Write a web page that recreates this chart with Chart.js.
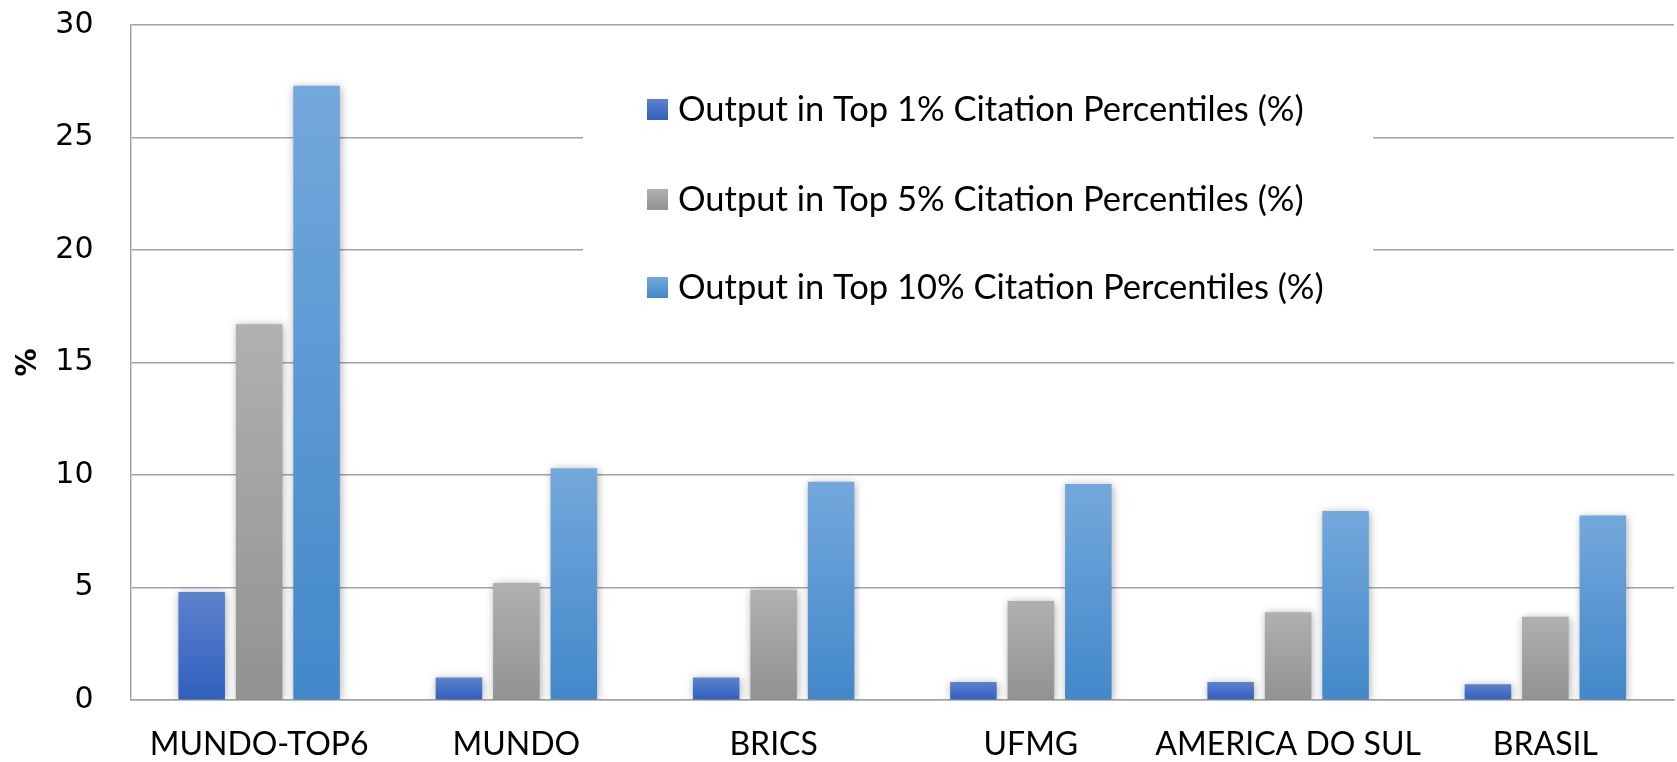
<!DOCTYPE html>
<html lang="pt">
<head>
  <meta charset="utf-8">
  <title>Citation Percentiles</title>
  <script src="https://cdn.jsdelivr.net/npm/chart.js@4/dist/chart.umd.min.js"></script>
  <style>
    html, body { margin: 0; padding: 0; background: #fff; }
    #wrap { width: 1677px; height: 762px; }
  </style>
</head>
<body>
  <div id="wrap"><canvas id="chart"></canvas></div>
  <script>
    var categories = ['MUNDO-TOP6', 'MUNDO', 'BRICS', 'UFMG', 'AMERICA DO SUL', 'BRASIL'];
    var top1 = [4.8, 1.0, 1.0, 0.8, 0.8, 0.7];
    var top5 = [16.7, 5.2, 4.9, 4.4, 3.9, 3.7];
    var top10 = [27.3, 10.3, 9.7, 9.6, 8.4, 8.2];
    var seriesNames = [
      'Output in Top 1% Citation Percentiles (%)',
      'Output in Top 5% Citation Percentiles (%)',
      'Output in Top 10% Citation Percentiles (%)'
    ];
    var yTicks = [0, 5, 10, 15, 20, 25, 30];

    // top / bottom colours of each bar's gradient
    var shades = [
      ['#5d82ce', '#2f5fbd'],
      ['#b0b0b0', '#929292'],
      ['#73a8dc', '#4288c9']
    ];

    function barFill(i) {
      return function (c) {
        var chart = c.chart;
        if (!chart.chartArea || c.raw == null) return shades[i][1];
        var y = chart.scales.y;
        var g = chart.ctx.createLinearGradient(0, y.getPixelForValue(c.raw), 0, y.getPixelForValue(0));
        g.addColorStop(0, shades[i][0]);
        g.addColorStop(1, shades[i][1]);
        return g;
      };
    }

    // legend sitting inside the plot, on a white box that hides the grid
    var boxLegend = {
      id: 'boxLegend',
      beforeDatasetsDraw: function (chart) {
        var ctx = chart.ctx;
        ctx.save();
        ctx.fillStyle = '#ffffff';
        ctx.fillRect(583, 30, 790, 328);
        var rows = [109, 199, 287];
        chart.data.datasets.forEach(function (ds, i) {
          var g = ctx.createLinearGradient(0, rows[i] - 10, 0, rows[i] + 11);
          g.addColorStop(0, shades[i][0]);
          g.addColorStop(1, shades[i][1]);
          ctx.fillStyle = g;
          ctx.fillRect(647, rows[i] - 10, 21, 21);
          ctx.fillStyle = '#000';
          ctx.font = '34.5px Lato';
          ctx.textBaseline = 'middle';
          ctx.fillText(ds.label, 678, rows[i] + 1);
        });
        ctx.restore();
      }
    };

    var barShadow = {
      id: 'barShadow',
      beforeDatasetsDraw: function (chart) {
        var ctx = chart.ctx;
        ctx.save();
        ctx.shadowColor = 'rgba(0,0,0,0.32)';
        ctx.shadowBlur = 8;
        ctx.shadowOffsetX = 1;
        ctx.shadowOffsetY = 1;
      },
      afterDatasetsDraw: function (chart) {
        chart.ctx.restore();
      }
    };

    var gridColor = '#a3a3a3';

    new Chart(document.getElementById('chart'), {
      type: 'bar',
      data: {
        labels: categories,
        datasets: [
          { label: seriesNames[0], data: top1, backgroundColor: barFill(0) },
          { label: seriesNames[1], data: top5, backgroundColor: barFill(1) },
          { label: seriesNames[2], data: top10, backgroundColor: barFill(2) }
        ]
      },
      options: {
        responsive: true,
        maintainAspectRatio: false,
        animation: false,
        layout: { padding: { top: 25, right: 3, left: 0, bottom: 0 } },
        datasets: { bar: { categoryPercentage: 0.67, barPercentage: 0.81, borderWidth: 0 } },
        plugins: {
          legend: { display: false },
          tooltip: { enabled: false }
        },
        scales: {
          x: {
            grid: { display: false, drawTicks: false },
            border: { display: true, color: gridColor, width: 1.5 },
            ticks: { color: '#000', font: { family: 'Lato', size: 32 }, padding: 25, maxRotation: 0, autoSkip: false },
            afterFit: function (s) { s.height = 62; }
          },
          y: {
            min: 0,
            max: 30,
            afterBuildTicks: function (s) { s.ticks = yTicks.map(function (v) { return { value: v }; }); },
            grid: { color: gridColor, lineWidth: 1.5, drawTicks: true, tickLength: 37, tickColor: 'rgba(0,0,0,0)' },
            border: { display: true, color: gridColor, width: 1.5 },
            ticks: { color: '#000', font: { family: 'DejaVu Sans', size: 30, lineHeight: 1.0 }, padding: 0 },
            title: { display: true, text: '%', color: '#000', font: { family: 'DejaVu Sans', size: 28, weight: 'bold' }, padding: { top: 12 } },
            afterFit: function (s) { s.width = 130.5; }
          }
        }
      },
      plugins: [boxLegend, barShadow]
    });
  </script>
</body>
</html>
